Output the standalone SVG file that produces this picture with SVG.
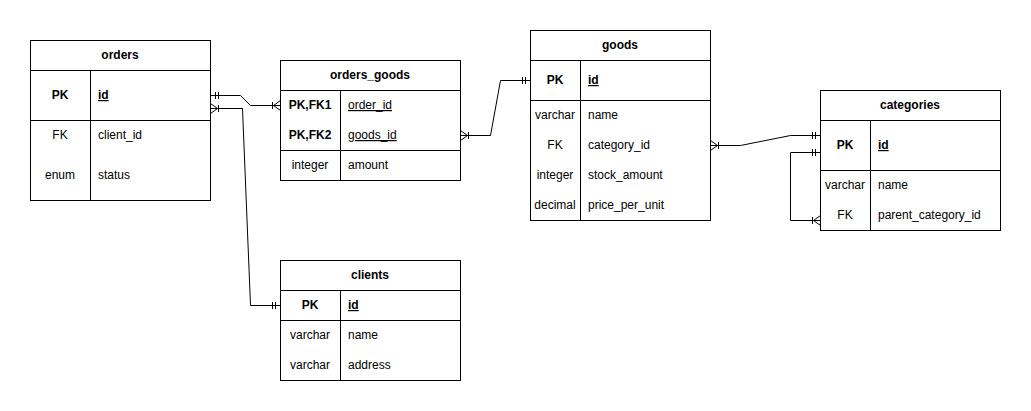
<svg xmlns="http://www.w3.org/2000/svg" width="1031" height="411" viewBox="0 0 1031 411">
<style>
.box{fill:#fff;stroke:#000;stroke-width:1}
.ln{stroke:#000;stroke-width:1;fill:none}
text{font-family:"Liberation Sans",Arial,Helvetica,sans-serif;font-size:12px;fill:#000}
.h{font-weight:bold;text-anchor:middle}
.k{text-anchor:middle}
.kb{text-anchor:middle;font-weight:bold}
.pk{font-weight:bold;text-decoration:underline}
.u{text-decoration:underline}
.c{stroke:#000;stroke-width:1;fill:none}
</style>
<defs>
<marker id="one" markerWidth="12" markerHeight="12" refX="10" refY="5" orient="auto-start-reverse" markerUnits="userSpaceOnUse" overflow="visible">
<path d="M5,1.5 L5,8.5 M2,1.5 L2,8.5" stroke="#000" stroke-width="1" fill="none"/>
</marker>
<marker id="many" markerWidth="12" markerHeight="12" refX="10" refY="5" orient="auto-start-reverse" markerUnits="userSpaceOnUse" overflow="visible">
<path d="M10,0 L3,5 L10,10 M2,1.5 L2,8.5" stroke="#000" stroke-width="1" fill="none"/>
</marker>
</defs>
<rect width="1031" height="411" fill="#fff"/>

<g id="orders">
<rect class="box" x="30.5" y="40.5" width="180" height="160"/>
<path class="ln" d="M30.5,70.5 H210.5 M30.5,120.5 H210.5 M90.5,70.5 V200.5"/>
<text class="h" x="120" y="59">orders</text>
<text class="kb" x="60" y="99">PK</text>
<text class="pk" x="98" y="99">id</text>
<text class="k" x="60" y="139">FK</text>
<text x="98" y="139">client_id</text>
<text class="k" x="60" y="179">enum</text>
<text x="98" y="179">status</text>
</g>

<g id="orders_goods">
<rect class="box" x="280.5" y="60.5" width="180" height="120"/>
<path class="ln" d="M280.5,90.5 H460.5 M280.5,150.5 H460.5 M340.5,90.5 V180.5"/>
<text class="h" x="370" y="79">orders_goods</text>
<text class="kb" x="310" y="109">PK,FK1</text>
<text class="u" x="348" y="109">order_id</text>
<text class="kb" x="310" y="139">PK,FK2</text>
<text class="u" x="348" y="139">goods_id</text>
<text class="k" x="310" y="169">integer</text>
<text x="348" y="169">amount</text>
</g>

<g id="goods">
<rect class="box" x="530.5" y="30.5" width="180" height="190"/>
<path class="ln" d="M530.5,60.5 H710.5 M530.5,100.5 H710.5 M580.5,60.5 V220.5"/>
<text class="h" x="620" y="49">goods</text>
<text class="kb" x="555" y="84">PK</text>
<text class="pk" x="588" y="84">id</text>
<text class="k" x="555" y="119">varchar</text>
<text x="588" y="119">name</text>
<text class="k" x="555" y="149">FK</text>
<text x="588" y="149">category_id</text>
<text class="k" x="555" y="179">integer</text>
<text x="588" y="179">stock_amount</text>
<text class="k" x="555" y="209">decimal</text>
<text x="588" y="209">price_per_unit</text>
</g>

<g id="categories">
<rect class="box" x="820.5" y="90.5" width="180" height="140"/>
<path class="ln" d="M820.5,120.5 H1000.5 M820.5,170.5 H1000.5 M870.5,120.5 V230.5"/>
<text class="h" x="910" y="109">categories</text>
<text class="kb" x="845" y="149">PK</text>
<text class="pk" x="878" y="149">id</text>
<text class="k" x="845" y="189">varchar</text>
<text x="878" y="189">name</text>
<text class="k" x="845" y="219">FK</text>
<text x="878" y="219">parent_category_id</text>
</g>

<g id="clients">
<rect class="box" x="280.5" y="260.5" width="180" height="120"/>
<path class="ln" d="M280.5,290.5 H460.5 M280.5,320.5 H460.5 M340.5,290.5 V380.5"/>
<text class="h" x="370" y="279">clients</text>
<text class="kb" x="310" y="309">PK</text>
<text class="pk" x="348" y="309">id</text>
<text class="k" x="310" y="339">varchar</text>
<text x="348" y="339">name</text>
<text class="k" x="310" y="369">varchar</text>
<text x="348" y="369">address</text>
</g>

<g id="connectors">
<path class="c" d="M210.5,95.5 L240.5,95.5 L250.5,105.5 L280.5,105.5" marker-start="url(#one)" marker-end="url(#many)"/>
<path class="c" d="M210.5,108.5 L242.5,108.5 L250.5,305.5 L280.5,305.5" marker-start="url(#many)" marker-end="url(#one)"/>
<path class="c" d="M460.5,135.5 L490.5,135.5 L500.5,80.5 L530.5,80.5" marker-start="url(#many)" marker-end="url(#one)"/>
<path class="c" d="M710.5,145.5 L740.5,145.5 L790.5,135.5 L820.5,135.5" marker-start="url(#many)" marker-end="url(#one)"/>
<path class="c" d="M820.5,152.5 L790.5,152.5 L790.5,220.5 L820.5,220.5" marker-start="url(#one)" marker-end="url(#many)"/>
</g>
</svg>
